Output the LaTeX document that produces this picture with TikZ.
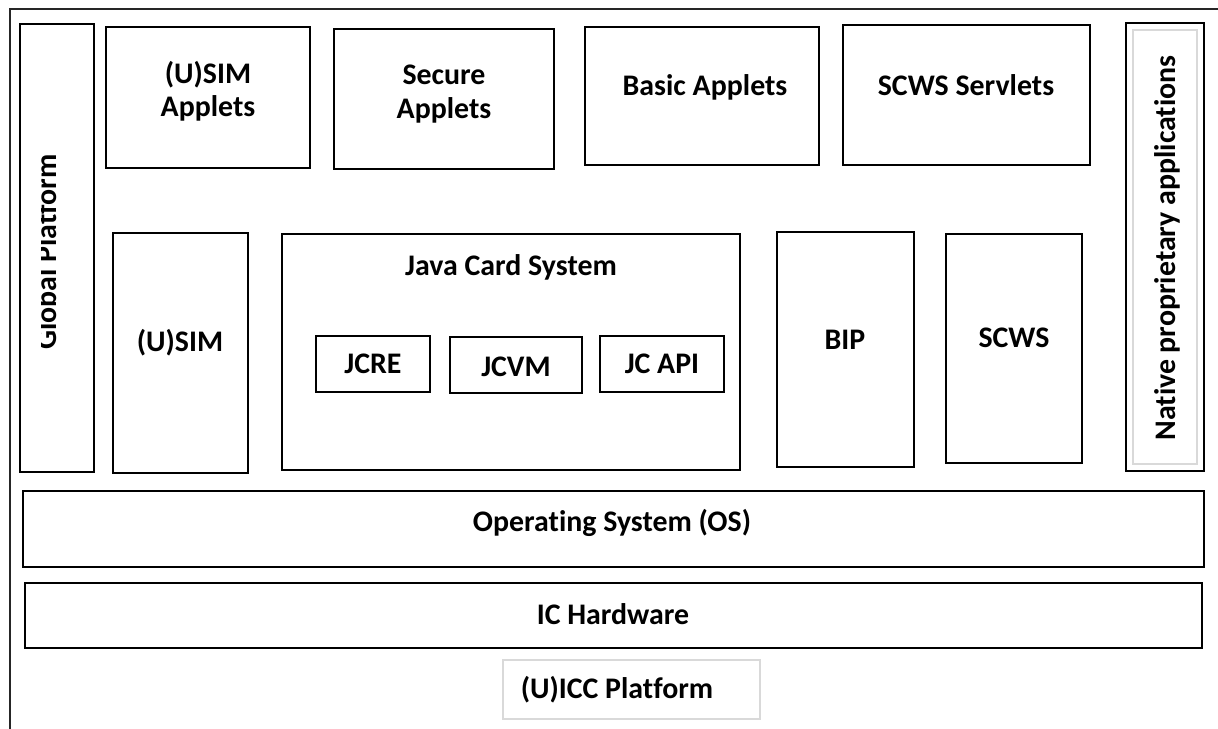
\documentclass[tikz,border=0pt]{standalone}
\usepackage{fontspec}
\setmainfont{Carlito}[Ligatures=NoCommon]
\usepackage{tikz}

\tikzset{
	blk/.style={draw=black, line width=1.2pt},
	thinblk/.style={draw=black!15, line width=0.8pt},
	lbl/.style={font=\fontsize{17}{20}\selectfont\bfseries, align=center, inner sep=0pt}
}

\begin{document}
\begin{tikzpicture}[x=0.02cm, y=-0.02cm]
		\useasboundingbox (0,0) rectangle (1218,728);
		\draw [line width=1.2pt, draw=black!85] (10,9) rectangle (1240,750);
		
		% side columns
		\draw [blk] (20,24) rectangle (94,472);
		\begin{scope}
			\clip (41,24) rectangle (94,472);
			\node [lbl, rotate=90, anchor=base] (gp) at (56,252) {Global Platform};
		\end{scope}
		\draw [blk] (1126,23) rectangle (1204,471);
		\draw [thinblk] (1133,30) rectangle (1197,464);
		\node [lbl, rotate=90] (native) at (1167,248) {Native proprietary applications};
		
		% applets row
		\draw [blk] (106,27) rectangle (310,168);
		\node [lbl] (usimapp) at (208,91) {(U)SIM\\[-1pt]Applets};
		\draw [blk] (334,29) rectangle (554,169);
		\node [lbl] (secapp) at (444,94) {Secure\\[-1pt]Applets};
		\draw [blk] (585,27) rectangle (819,165);
		\node [lbl] (basicapp) at (705,87) {Basic Applets};
		\draw [blk] (843,25) rectangle (1090,165);
		\node [lbl] (servlets) at (966,85) {SCWS Servlets};
		
		% runtime row
		\draw [blk] (113,233) rectangle (248,473);
		\node [lbl] (usim) at (180,343) {(U)SIM};
		\draw [blk] (282,234) rectangle (740,470);
		\node [lbl] (jcs) at (511,267) {Java Card System};
		\draw [blk] (316,336) rectangle (430,392);
		\node [lbl] (jcre) at (373,364) {JCRE};
		\draw [blk] (450,337) rectangle (582,393);
		\node [lbl] (jcvm) at (516,367) {JCVM};
		\draw [blk] (600,336) rectangle (724,392);
		\node [lbl] (jcapi) at (662,364) {JC API};
		\draw [blk] (777,232) rectangle (914,467);
		\node [lbl] (bip) at (845,340) {BIP};
		\draw [blk] (946,234) rectangle (1082,463);
		\node [lbl] (scws) at (1014,338) {SCWS};
		
		% lower layers
		\draw [blk] (23,491) rectangle (1204,567);
		\node [lbl] (os) at (612,523) {Operating System (OS)};
		\draw [blk] (25,583) rectangle (1202,648);
		\node [lbl] (ichw) at (613,614) {IC Hardware};
		\draw [thinblk] (503,660) rectangle (760,719);
		\node [lbl] (uicc) at (617,690) {(U)ICC Platform};
	\end{tikzpicture}
\end{document}
